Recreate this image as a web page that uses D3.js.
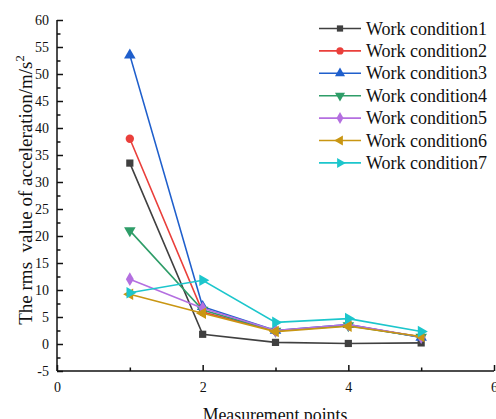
<!DOCTYPE html>
<html>
<head>
<meta charset="utf-8">
<script src="https://cdn.jsdelivr.net/npm/d3@7"></script>
<style>
  html, body { margin: 0; padding: 0; background: #ffffff; }
  svg { display: block; }
  text { font-family: "Liberation Serif", "Times New Roman", serif; fill: #111; }
</style>
</head>
<body>
<div id="chart"></div>
<script>
// Measurement points along the structure
const points = [1, 2, 3, 4, 5];

// RMS acceleration (m/s^2) for each working condition
const wc1 = [33.5, 1.8, 0.3, 0.1, 0.2];
const wc2 = [38.0, 5.9, 2.4, 3.5, 1.3];
const wc3 = [53.5, 6.9, 2.5, 3.6, 1.2];
const wc4 = [21.0, 6.3, 2.4, 3.4, 1.3];
const wc5 = [12.0, 6.6, 2.5, 3.6, 1.3];
const wc6 = [9.2, 5.7, 2.3, 3.3, 1.4];
const wc7 = [9.5, 11.8, 4.0, 4.7, 2.3];

const seriesNames = ["Work condition1", "Work condition2", "Work condition3", "Work condition4",
                     "Work condition5", "Work condition6", "Work condition7"];
const seriesValues = [wc1, wc2, wc3, wc4, wc5, wc6, wc7];
const seriesColors = ["#404040", "#ea3f3b", "#1f5fcc", "#2e9d68", "#b46fe0", "#c99612", "#1cc6cc"];

// Axis ticks
const xMajorTicks = [0, 2, 4, 6];
const xMinorTicks = [1, 3, 5];
const yMajorTicks = [-5, 0, 5, 10, 15, 20, 25, 30, 35, 40, 45, 50, 55, 60];

const W = 496, H = 419;
const plot = { left: 57, right: 494, top: 20, bottom: 371 };

const svg = d3.select("#chart").append("svg").attr("width", W).attr("height", H);

const x = d3.scaleLinear().domain([0, 6]).range([plot.left, plot.right]);
const y = d3.scaleLinear().domain([-5, 60]).range([plot.bottom, plot.top]);

// Marker shapes: square, circle, up, down, diamond, left, right
const markerDefs = [
  { type: d3.symbolSquare, size: 52, rot: 0 },
  { type: d3.symbolCircle, size: 55, rot: 0 },
  { type: d3.symbolTriangle, size: 58, rot: 0 },
  { type: d3.symbolTriangle, size: 58, rot: 180 },
  { type: d3.symbolDiamond, size: 55, rot: 0 },
  { type: d3.symbolTriangle, size: 58, rot: -90 },
  { type: d3.symbolTriangle, size: 58, rot: 90 }
];

// Plain hyphen for negative numbers
const fmt = d => String(d);

// Axes (ticks point inward)
const yMinor = d3.range(-2.5, 60, 5);
const yAxis = d3.axisLeft(y).tickValues(yMajorTicks).tickSize(-6).tickPadding(8).tickFormat(fmt);
const yAxisMinor = d3.axisLeft(y).tickValues(yMinor).tickSize(-3.5).tickFormat("");
const xAxis = d3.axisBottom(x).tickValues(xMajorTicks).tickSize(-6).tickPadding(11).tickFormat(fmt);
const xAxisMinor = d3.axisBottom(x).tickValues(xMinorTicks).tickSize(-3.5).tickFormat("");

function styleAxis(g) {
  g.select(".domain").attr("stroke", "#111").attr("stroke-width", 1.5);
  g.selectAll(".tick line").attr("stroke", "#111").attr("stroke-width", 1.5);
  g.selectAll(".tick text").attr("font-size", 14).attr("font-family", "Liberation Serif, serif").attr("fill", "#111");
}

svg.append("g").attr("transform", `translate(${plot.left},0)`).call(yAxisMinor).call(styleAxis)
  .select(".domain").remove();
svg.append("g").attr("transform", `translate(0,${plot.bottom})`).call(xAxisMinor).call(styleAxis)
  .select(".domain").remove();
svg.append("g").attr("transform", `translate(${plot.left},0)`).call(yAxis).call(styleAxis)
  .call(g => g.select(".domain").attr("d", `M0,${plot.top}V${plot.bottom}`));
svg.append("g").attr("transform", `translate(0,${plot.bottom})`).call(xAxis).call(styleAxis)
  .call(g => g.select(".domain").attr("d", `M${plot.left},0H${plot.right}`));

// Axis titles
svg.append("text")
  .attr("x", 275)
  .attr("y", 421)
  .attr("text-anchor", "middle")
  .attr("font-size", 17.8)
  .text("Measurement points");

const yTitle = svg.append("text")
  .attr("transform", `translate(32,190) rotate(-90)`)
  .attr("text-anchor", "middle")
  .attr("font-size", 19);
yTitle.append("tspan").text("The rms\u00A0 value of acceleration/m/s");
yTitle.append("tspan").attr("font-size", 12.5).attr("dy", -8).text("2");

// Lines and markers
const line = d3.line().x((d, i) => x(points[i])).y(d => y(d));

seriesValues.forEach((vals, s) => {
  const g = svg.append("g");
  g.append("path")
    .datum(vals)
    .attr("d", line)
    .attr("fill", "none")
    .attr("stroke", seriesColors[s])
    .attr("stroke-width", 1.6);
  const m = markerDefs[s];
  g.selectAll("path.mk")
    .data(vals)
    .join("path")
    .attr("class", "mk")
    .attr("d", d3.symbol().type(m.type).size(m.size))
    .attr("transform", (d, i) => `translate(${x(points[i])},${y(d)}) rotate(${m.rot})`)
    .attr("fill", seriesColors[s]);
});

// Legend
const legend = svg.append("g");
const legY0 = 28.5, legStep = 22.4;
seriesNames.forEach((name, s) => {
  const ly = legY0 + s * legStep;
  legend.append("line")
    .attr("x1", 319).attr("x2", 361).attr("y1", ly).attr("y2", ly)
    .attr("stroke", seriesColors[s]).attr("stroke-width", 1.6);
  const m = markerDefs[s];
  legend.append("path")
    .attr("d", d3.symbol().type(m.type).size(m.size * 0.75))
    .attr("transform", `translate(340,${ly}) rotate(${m.rot})`)
    .attr("fill", seriesColors[s]);
  legend.append("text")
    .attr("x", 366).attr("y", ly + 6)
    .attr("font-size", 18)
    .text(name);
});
</script>
</body>
</html>
